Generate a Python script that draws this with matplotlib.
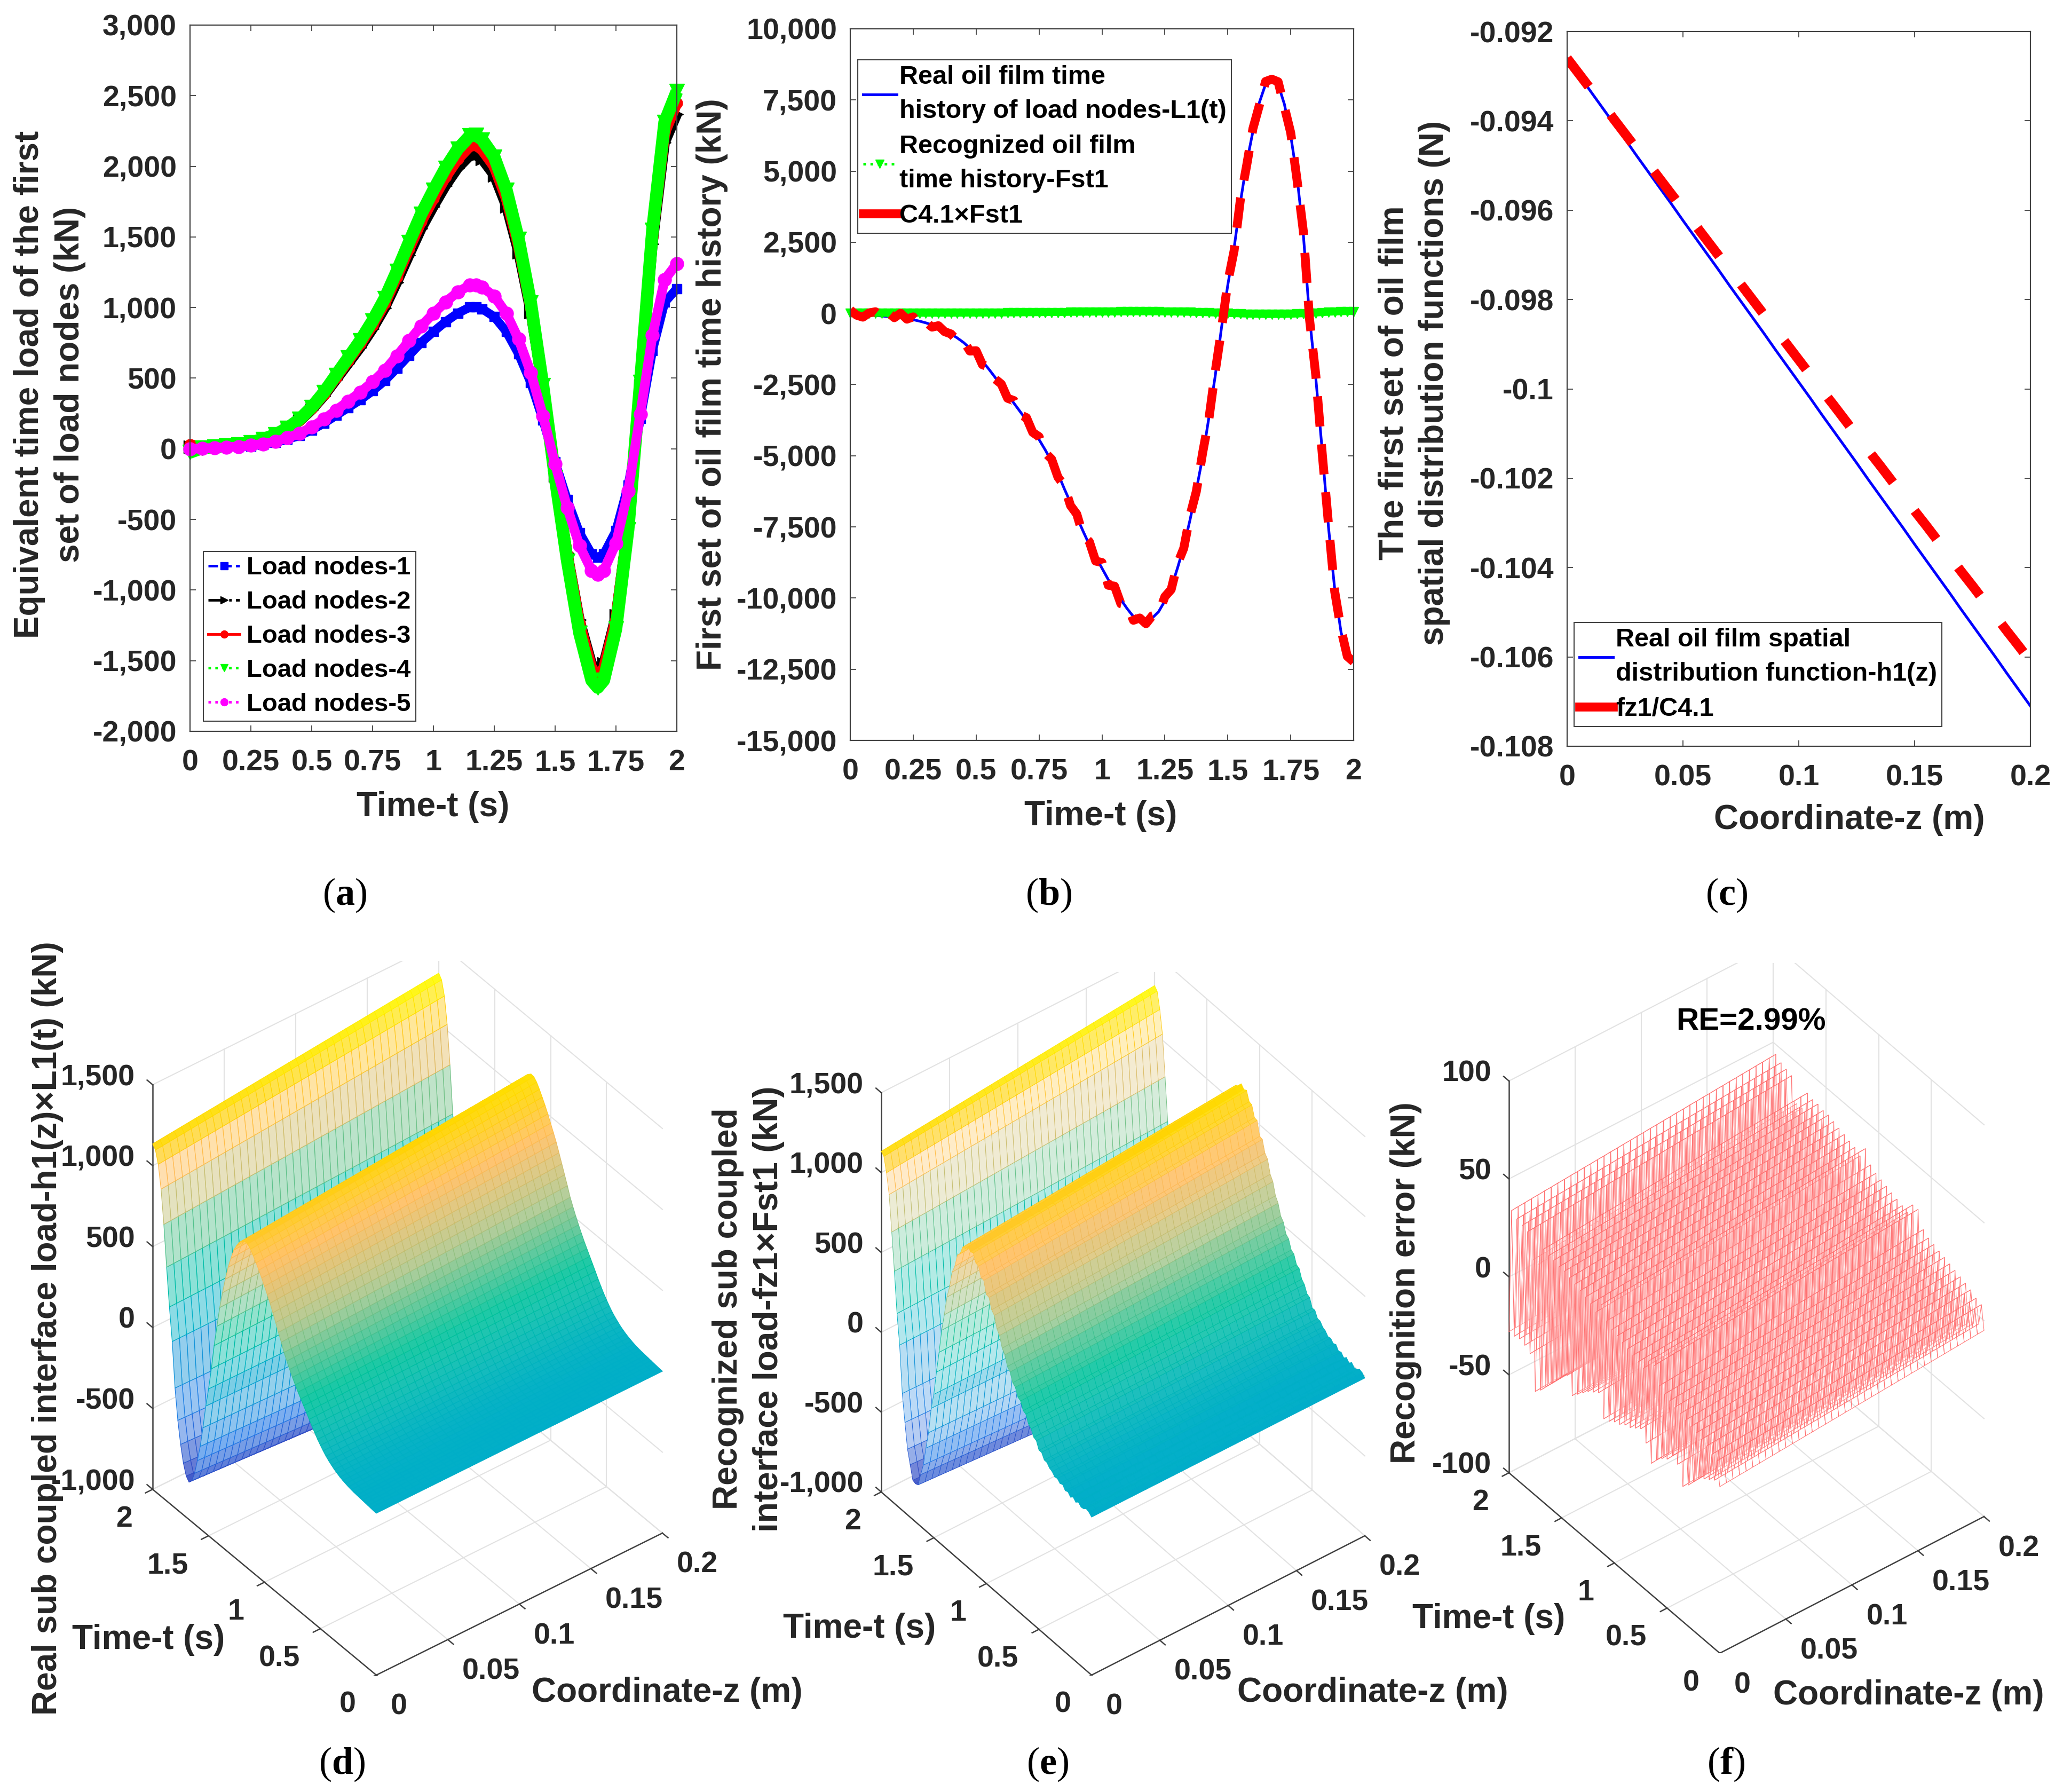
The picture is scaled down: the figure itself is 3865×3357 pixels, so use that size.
#!/usr/bin/env python
"""Six-panel figure: load nodes, oil film history, spatial function and the three mesh plots."""
import numpy as np
import matplotlib
matplotlib.use("Agg")
import matplotlib.pyplot as plt
from matplotlib.colors import LinearSegmentedColormap, Normalize
from matplotlib.font_manager import FontProperties
from matplotlib.lines import Line2D
from mpl_toolkits.mplot3d import proj3d

# (a) equivalent time load of the load nodes
time_a = [0, .05, .1, .15, .2, .25, .3, .35, .4, .45, .5, .55, .6, .65, .7, .75, .8, .85, .9, .95,
          1, 1.05, 1.1, 1.15, 1.175, 1.2, 1.25, 1.3, 1.35, 1.4, 1.45, 1.5, 1.55, 1.6, 1.65, 1.675,
          1.7, 1.75, 1.8, 1.85, 1.9, 1.95, 2]
node1 = [0, 3, 6, 10, 14, 20, 31, 45, 67, 94, 133, 181, 236, 292, 347, 410, 482, 570, 662, 753,
         829, 900, 960, 1003, 1005, 991, 935, 829, 671, 468, 204, -93, -361, -593, -745, -769,
         -745, -579, -259, 213, 695, 1037, 1134]
node2 = [15, 6, 13, 21, 29, 42, 63, 94, 138, 196, 276, 374, 489, 604, 719, 849, 997, 1179, 1371, 1559,
         1716, 1863, 1988, 2076, 2080, 2051, 1936, 1716, 1390, 968, 422, -189, -737, -1210, -1521, -1570,
         -1521, -1181, -532, 445, 1450, 2167, 2370]
node3 = [30, 6, 14, 22, 30, 44, 65, 97, 143, 202, 285, 386, 505, 624, 743, 877, 1030, 1218, 1416, 1610,
         1772, 1925, 2053, 2144, 2148, 2119, 2000, 1772, 1436, 1000, 436, -193, -753, -1235, -1554, -1600,
         -1554, -1206, -540, 460, 1500, 2240, 2450]
node4 = [-25, 6, 14, 23, 31, 45, 68, 100, 147, 209, 295, 399, 522, 644, 767, 906, 1064, 1258, 1463, 1663,
         1831, 1989, 2122, 2216, 2220, 2189, 2066, 1831, 1483, 1033, 450, -204, -794, -1303, -1639, -1690,
         -1639, -1275, -570, 470, 1549, 2313, 2530]
node5 = [0, 3, 7, 12, 16, 24, 35, 52, 77, 109, 154, 209, 273, 337, 401, 474, 556, 658, 765, 870,
         958, 1040, 1110, 1159, 1161, 1145, 1081, 958, 776, 540, 235, -107, -417, -685, -861, -888,
         -861, -669, -300, 246, 803, 1198, 1311]

# (b) time histories, every 0.025 s
l1_real = [0, -10, -30, -50, -70, -90, -110, -130, -150, -180,
           -220, -270, -330, -400, -490, -590, -720, -860, -1020, -1220,
           -1440, -1680, -1950, -2240, -2550, -2850, -3150, -3450, -3750, -4080,
           -4430, -4800, -5200, -5620, -6150, -6650, -7150, -7650, -8130, -8550,
           -8950, -9350, -9720, -10050, -10370, -10650, -10830, -10850, -10700, -10480,
           -10100, -9650, -8950, -8200, -7250, -6200, -5050, -3650, -2200, -500,
           1000, 2300, 3900, 5300, 6400, 7400, 8050, 8300, 8050, 7350,
           6250, 4800, 2800, -150, -2300, -4800, -7500, -9700, -11200, -12000,
           -12250]
c41_fst1 = [120, -60, -130, 20, 60, -120, 40, -150, 10, -200,
            -120, -380, -300, -480, -430, -640, -720, -950, -960, -1320,
            -1310, -1800, -1880, -2300, -2480, -2980, -3060, -3560, -3660, -4180,
            -4330, -4900, -5120, -5750, -6050, -6750, -7050, -7800, -8020, -8700,
            -8750, -9550, -9580, -10200, -10250, -10780, -10700, -10900, -10620, -10550,
            -9950, -9700, -8800, -8250, -7100, -6250, -4900, -3700, -2050, -560,
            1100, 2200, 4000, 5200, 6500, 7300, 8150, 8230, 8140, 7250,
            6350, 4700, 2900, -220, -2200, -4900, -7400, -9780, -11100, -12050,
            -12240]
C41 = -200.0  # estimated, the green curve only just leaves zero

# (c) spatial functions, every 0.005 m
h1_real = [-0.09260, -0.09296, -0.09333, -0.09369, -0.09405, -0.09441, -0.09478, -0.09514, -0.09550, -0.09586,
           -0.09623, -0.09659, -0.09695, -0.09731, -0.09768, -0.09804, -0.09840, -0.09876, -0.09913, -0.09949,
           -0.09985, -0.10021, -0.10058, -0.10094, -0.10130, -0.10166, -0.10203, -0.10239, -0.10275, -0.10311,
           -0.10348, -0.10384, -0.10420, -0.10456, -0.10493, -0.10529, -0.10565, -0.10601, -0.10638, -0.10674,
           -0.10710]
fz1_over_c = [-0.09260, -0.09294, -0.09328, -0.09361, -0.09395, -0.09429, -0.09463, -0.09496, -0.09530, -0.09564,
              -0.09598, -0.09631, -0.09665, -0.09699, -0.09733, -0.09766, -0.09800, -0.09834, -0.09868, -0.09901,
              -0.09935, -0.09969, -0.10003, -0.10036, -0.10070, -0.10104, -0.10138, -0.10171, -0.10205, -0.10239,
              -0.10273, -0.10306, -0.10340, -0.10374, -0.10408, -0.10441, -0.10475, -0.10509, -0.10543, -0.10576,
              -0.10610]

# (f) error band along t at z=0, plus its drift along z
err_t = [-15, -3, -14, -2, -16, 0, -18, 1, -20, 2,
         -24, 3, -28, 4, -31, 5, -22, 6, -20, 7,
         -24, 8, -26, 10, -29, 18, -33, 18, -25, 12,
         -20, 13, -22, 14, -24, 15, -25, 16, -27, 17,
         -28, 18, -30, 20, -31, 26, -20, 20, -22, 22,
         -24, 23, -27, 24, -30, 25, -33, 26, -25, 27,
         -28, 27, -32, 28, -36, 28, -40, 29, -44, 19,
         -47, 19, -30, 31, -28, 32, -27, 33, -28, 35,
         -28]
err_z = [0, 0.3, 0.5, 0.8, 1, 1.3, 1.5, 1.8, 2, 2.3,
         2.5, 2.8, 3, 3.3, 3.5, 3.8, 4, 4.3, 4.5, 4.8,
         5, 5.3, 5.5, 5.8, 6, 6.3, 6.5, 6.8, 7, 7.3,
         7.5, 7.8, 8, 8.3, 8.5, 8.8, 9, 9.3, 9.5, 9.8,
         10]

time_ticks = [0, 0.25, 0.5, 0.75, 1, 1.25, 1.5, 1.75, 2]
time_labels = ["0", "0.25", "0.5", "0.75", "1", "1.25", "1.5", "1.75", "2"]
coord_ticks = [0, 0.05, 0.1, 0.15, 0.2]
coord_labels = ["0", "0.05", "0.1", "0.15", "0.2"]
load_ticks = [-1000, -500, 0, 500, 1000, 1500]
load_labels = ["-1,000", "-500", "0", "500", "1,000", "1,500"]
err_ticks = [-100, -50, 0, 50, 100]
err_labels = ["-100", "-50", "0", "50", "100"]
time_ticks_3d = [0, 0.5, 1, 1.5, 2]
time_labels_3d = ["0", "0.5", "1", "1.5", "2"]

W, H = 3866, 3357
INK = "#262626"
plt.rcParams["font.family"] = ["Liberation Sans", "DejaVu Sans"]
plt.rcParams["mathtext.fontset"] = "custom"
plt.rcParams["mathtext.bf"] = "Liberation Serif:bold"
plt.rcParams["mathtext.rm"] = "Liberation Serif"
BOLD = dict(family="Liberation Sans", weight="bold", color=INK)
TICK_PT = 40
LABEL_PT = 46
LEG_A = FontProperties(family="Liberation Sans", weight="bold", size=34)
LEG_B = FontProperties(family="Liberation Sans", weight="bold", size=35)

fig = plt.figure(figsize=(W / 100, H / 100), dpi=100, facecolor="white")


def px_text(x, y, s, **kw):
    """Text placed by picture pixels (y counted from the top)."""
    opts = dict(BOLD, ha="center", va="center", fontsize=LABEL_PT)
    opts.update(kw)
    return fig.text(x / W, 1 - y / H, s, **opts)


def axes_2d(left, right, top, bottom):
    ax = fig.add_axes([left / W, 1 - bottom / H, (right - left) / W, (bottom - top) / H])
    for s in ax.spines.values():
        s.set_color("#404040")
        s.set_linewidth(1.6)
    ax.tick_params(direction="in", top=True, right=True, length=8, width=1.3, color="#404040")
    ax.tick_params(axis="x", pad=24)
    ax.tick_params(axis="y", pad=18)
    return ax


def set_ticks(ax, xt, xl, yt, yl):
    ax.set_xticks(xt, xl, fontsize=TICK_PT, **BOLD)
    ax.set_yticks(yt, yl, fontsize=TICK_PT, **BOLD)


def legend(ax, handles, labels, left, top, prop, **kw):
    leg = ax.legend(handles, labels, loc="upper left", bbox_to_anchor=(left / W, 1 - top / H),
                    bbox_transform=fig.transFigure, borderaxespad=0, prop=prop, fancybox=False,
                    edgecolor="#404040", framealpha=1, **kw)
    leg.get_frame().set_linewidth(1.5)
    for t in leg.get_texts():
        t.set_color("black")
        t.set_linespacing(1.55)
    return leg


# ---- (a)
ax = axes_2d(356, 1268, 47, 1370)
styles_a = [(node1, "#0000ff", "s", "--", 13, 12),
            (node2, "#000000", ">", "-.", 17, 14),
            (node3, "#ff0000", "o", "-", 15, 15),
            (node4, "#00ff00", "v", ":", 20, 17),
            (node5, "#ff00ff", "o", ":", 18, 13)]
handles_a = []
for vals, col, mk, ls, ms, band in styles_a:
    ax.plot(time_a, vals, "-", color=col, lw=band, marker=mk, ms=ms, clip_on=False,
            solid_joinstyle="round", solid_capstyle="butt")
    handles_a.append(Line2D([], [], color=col, ls=ls, lw=3.5, marker=mk, ms=10))
ax.set_xlim(0, 2)
ax.set_ylim(-2000, 3000)
set_ticks(ax, time_ticks, time_labels, list(range(-2000, 3001, 500)),
          ["-2,000", "-1,500", "-1,000", "-500", "0", "500", "1,000", "1,500", "2,000", "2,500", "3,000"])
legend(ax, handles_a, [f"Load nodes-{i}" for i in range(1, 6)], 381, 1033, LEG_A,
       handlelength=1.25, handletextpad=0.26, labelspacing=0.42, borderpad=0.2)
px_text(811, 1512, "Time-t (s)")
px_text(93, 720, "Equivalent time load of the first\nset of load nodes (kN)", rotation=90, linespacing=1.32)

# ---- (b)
time_b = np.linspace(0, 2, len(l1_real))
ax = axes_2d(1593, 2536, 54, 1387)
ax.plot(time_b, l1_real, color="#0000ff", lw=3.6)
fst1 = np.array(c41_fst1) / C41
ax.plot(time_b, fst1, color="#00ff00", lw=9, marker="v", ms=13, clip_on=False, solid_capstyle="butt")
ax.plot(time_b, c41_fst1, color="#ff0000", lw=12, dashes=(3.4, 2.0), dash_capstyle="butt")
ax.set_xlim(0, 2)
ax.set_ylim(-15000, 10000)
set_ticks(ax, time_ticks, time_labels, list(range(-15000, 10001, 2500)),
          ["-15,000", "-12,500", "-10,000", "-7,500", "-5,000", "-2,500", "0", "2,500", "5,000", "7,500", "10,000"])
handles_b = [Line2D([], [], color="#0000ff", lw=3.6),
             Line2D([], [], color="#00ff00", lw=3.6, ls=":", marker="v", ms=11),
             Line2D([], [], color="#ff0000", lw=12)]
legend(ax, handles_b,
       ["Real oil film time\nhistory of load nodes-L1(t)", "Recognized oil film\ntime history-Fst1", "C4.1×Fst1"],
       1607, 112, LEG_B, handlelength=1.3, handletextpad=0.1, labelspacing=0.43, borderpad=0.2)
px_text(2062, 1529, "Time-t (s)")
px_text(1334, 720, "First set of oil film time history (kN)", rotation=90)

# ---- (c)
coord = np.linspace(0, 0.2, len(h1_real))
ax = axes_2d(2936, 3804, 59, 1398)
ax.plot(coord, h1_real, color="#0000ff", lw=3.6)
ax.plot(coord, fz1_over_c, color="#ff0000", lw=13, dashes=(3.7, 3.7), dash_capstyle="butt")
ax.set_xlim(0, 0.2)
ax.set_ylim(-0.108, -0.092)
set_ticks(ax, coord_ticks, coord_labels, [-0.108, -0.106, -0.104, -0.102, -0.1, -0.098, -0.096, -0.094, -0.092],
          ["-0.108", "-0.106", "-0.104", "-0.102", "-0.1", "-0.098", "-0.096", "-0.094", "-0.092"])
handles_c = [Line2D([], [], color="#0000ff", lw=3.6), Line2D([], [], color="#ff0000", lw=12)]
legend(ax, handles_c, ["Real oil film spatial\ndistribution function-h1(z)", "fz1/C4.1"],
       2949, 1166, LEG_B, handlelength=1.3, handletextpad=0.1, labelspacing=0.43, borderpad=0.2)
px_text(3465, 1536, "Coordinate-z (m)")
px_text(2649, 717, "The first set of oil film\nspatial distribution functions (N)", rotation=90, linespacing=1.32)

# ---- 3D panels
surf_cmap = LinearSegmentedColormap.from_list("surf", [
    (0.00, "#3b36b4"), (0.18, "#2078e6"), (0.405, "#00aec8"), (0.54, "#00c29a"),
    (0.68, "#a8c07e"), (0.81, "#ffb955"), (0.90, "#ffd400"), (1.00, "#ffff00")])
surf_norm = Normalize(-900, 1320)


def axes_3d(left, top, front, right, zlim, xlim=(0, 0.2), ylim=(0, 2)):
    """Orthographic 3D axes whose box corners land on the given picture pixels."""
    left, top, front, right = map(np.array, (left, top, front, right))
    xv = (right - front) * [1, -1]
    yv = (left - front) * [1, -1]
    r1, r2 = xv[1] / xv[0], -yv[0] / yv[1]
    th, el = np.arctan(np.sqrt(r1 * r2)), np.arcsin(np.sqrt(r1 / r2))
    box = (xv[0] / np.cos(th), -yv[0] / np.sin(th), (left[1] - top[1]) / np.cos(el))

    size = 1400.0
    ax = fig.add_axes([0.2, 0.2, size / W, size / H], projection="3d", computed_zorder=False,
                      proj_type="ortho")
    ax.set_xlim(*xlim)
    ax.set_ylim(*ylim)
    ax.set_zlim(*zlim)
    ax.view_init(elev=np.degrees(el), azim=-90 - np.degrees(th))
    ax.set_box_aspect(box)
    ax.set_axis_off()
    ax.patch.set_alpha(0)

    def pix(x, y, z):
        ax.apply_aspect()
        xp, yp, _ = proj3d.proj_transform(x, y, z, ax.get_proj())
        p = ax.transData.transform((xp, yp))
        return np.array([p[0], H - p[1]])

    a, b = pix(xlim[0], ylim[1], zlim[0]), pix(xlim[1], ylim[0], zlim[0])
    size *= np.hypot(*(right - left)) / np.hypot(*(b - a))
    ax.set_position([0.2, 0.2, size / W, size / H])
    shift = left - pix(xlim[0], ylim[1], zlim[0])
    ax.set_position([0.2 + shift[0] / W, 0.2 - shift[1] / H, size / W, size / H])
    ax.pix = pix
    return ax


def box_3d(ax, zt, zl):
    """MATLAB style: grid on the two back walls and the floor, axes on the near edges."""
    z0, z1 = ax.get_zlim()
    x0, x1 = ax.get_xlim()
    y0, y1 = ax.get_ylim()
    grid = dict(color="#e2e2e2", lw=1.5, zorder=1)
    for x in coord_ticks[1:]:
        ax.plot([x, x], [y0, y1], [z0, z0], **grid)
        ax.plot([x, x], [y1, y1], [z0, z1], **grid)
    for y in time_ticks_3d[1:]:
        ax.plot([x0, x1], [y, y], [z0, z0], **grid)
        ax.plot([x1, x1], [y, y], [z0, z1], **grid)
    for z in zt:
        ax.plot([x0, x1], [y1, y1], [z, z], **grid)
        ax.plot([x1, x1], [y0, y1], [z, z], **grid)

    line = dict(color="#404040", lw=1.8, zorder=1.5)
    ax.plot([x0, x0], [y1, y1], [z0, z1], **line)
    ax.plot([x0, x1], [y0, y0], [z0, z0], **line)
    ax.plot([x0, x0], [y0, y1], [z0, z0], **line)
    for z, s in zip(zt, zl):
        ax.plot([x0, x0], [y1, y1 + 0.05], [z, z], **line)
        p = ax.pix(x0, y1, z)
        px_text(p[0] - 33, p[1] - 13, s, ha="right", fontsize=TICK_PT)
    for y, s in zip(time_ticks_3d, time_labels_3d):
        ax.plot([x0, x0 - 0.005], [y, y], [z0, z0], **line)
        p = ax.pix(x0, y, z0)
        px_text(p[0] - 38, p[1] + 56, s, ha="right", fontsize=TICK_PT)
    for x, s in zip(coord_ticks, coord_labels):
        ax.plot([x, x], [y0, y0 - 0.05], [z0, z0], **line)
        p = ax.pix(x, y0, z0)
        px_text(p[0] + 27, p[1] + 60, s, ha="left", fontsize=TICK_PT)


def mesh(ax, zz, tt, vals, lw, white, gap_from=None):
    """Pale faces and coloured edges, the way MATLAB's mesh looks: cells that span a big
    jump between rows are mostly gap, flat cells close up into solid colour."""
    zg, tg = np.meshgrid(zz, tt)
    rgba = surf_cmap(surf_norm(vals))
    surf = ax.plot_surface(zg, tg, vals, facecolors=rgba, rstride=1, cstride=1, shade=False,
                           linewidth=lw, zorder=2)
    face = rgba[:-1, :-1].reshape(-1, 4).copy()
    ref = vals if gap_from is None else gap_from
    jump = np.abs(np.diff(ref, axis=0))[:, :-1].ravel()
    tint = white * np.clip(jump / jump.max() * 2.2, 0, 1)[:, None]
    face[:, :3] = face[:, :3] * (1 - tint) + tint
    surf.set_facecolor(face)
    return surf


def pink_mesh(ax, zz, tt, vals):
    """The error surface has one colour and lets the rows behind show through."""
    zg, tg = np.meshgrid(zz, tt)
    return ax.plot_surface(zg, tg, vals, color=(1, 1, 1, 0.1), edgecolor="#ff7070", rstride=1, cstride=1,
                           shade=False, linewidth=0.75, zorder=2)


h1 = np.array(h1_real)
fz = np.array(fz1_over_c)

# ---- (d)
ax = axes_3d((286, 2790), (286, 2032), (705, 3138), (1241, 2872), (-1000, 1500))
box_3d(ax, load_ticks, load_labels)
mesh(ax, coord, time_b, np.outer(l1_real, h1), 0.9, 0.55)
px_text(1250, 3171, "Coordinate-z (m)")
px_text(278, 3072, "Time-t (s)")
px_text(89, 2488, "Real sub coupled interface load-h1(z)×L1(t) (kN)", rotation=90)

# ---- (e)
ax = axes_3d((1651, 2795), (1651, 2047), (2045, 3138), (2557, 2877), (-1000, 1500))
box_3d(ax, load_ticks, load_labels)
mesh(ax, coord, time_b, np.outer(c41_fst1, fz), 0.7, 0.7, gap_from=np.outer(l1_real, fz))
px_text(2572, 3171, "Coordinate-z (m)")
px_text(1610, 3051, "Time-t (s)")
px_text(1402, 2452, "Recognized sub coupled\ninterface load-fz1×Fst1 (kN)", rotation=90, linespacing=1.32)

# ---- (f)
ax = axes_3d((2827, 2759), (2827, 2025), (3222, 3097), (3717, 2841), (-100, 100))
box_3d(ax, err_ticks, err_labels)
pink_mesh(ax, coord, time_b, np.add.outer(err_t, err_z))
px_text(3576, 3176, "Coordinate-z (m)")
px_text(2789, 3033, "Time-t (s)")
px_text(2634, 2403, "Recognition error (kN)", rotation=90)
px_text(3280, 1914, "RE=2.99%", fontsize=42, color="black")

# ---- captions
for x, y, s in [(646, 1677, "a"), (1965, 1677, "b"), (3235, 1677, "c"),
                (641, 3305, "d"), (1963, 3305, "e"), (3233, 3305, "f")]:
    fig.text(x / W, 1 - y / H, "($\\mathbf{%s}$)" % s, family="Liberation Serif", fontsize=52,
             color="black", ha="center", va="center")

fig.savefig("out.png", dpi=100)
